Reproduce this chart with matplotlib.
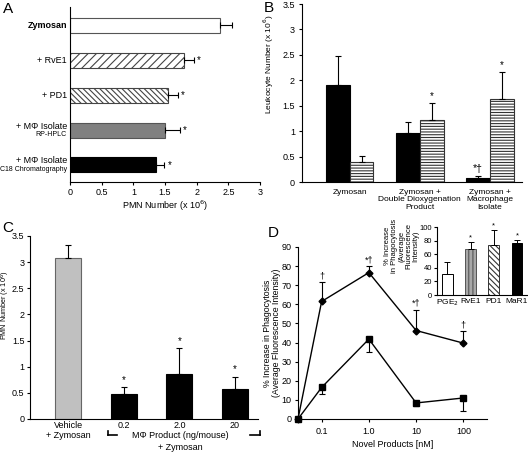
import matplotlib
matplotlib.use('Agg')
import matplotlib.pyplot as plt
import numpy as np

plt.rcParams['font.family'] = ['Liberation Sans', 'DejaVu Sans']
plt.rcParams['font.size'] = 6.5
plt.rcParams['hatch.linewidth'] = 0.8
plt.rcParams['axes.linewidth'] = 0.8
plt.rcParams['xtick.major.width'] = 0.8
plt.rcParams['ytick.major.width'] = 0.8
plt.rcParams['xtick.major.size'] = 2.5
plt.rcParams['ytick.major.size'] = 2.5
plt.rcParams['ytick.major.pad'] = 2.5

# ---------------- data ----------------
# Panel A
a_labels = ['Zymosan', '+ RvE1', '+ PD1', '+ MΦ Isolate', '+ MΦ Isolate']
a_sublabels = ['', '', '', 'RP-HPLC', 'C18 Chromatography']
a_values = [2.37, 1.80, 1.55, 1.50, 1.36]
a_errors = [0.18, 0.15, 0.15, 0.23, 0.13]
a_sig = ['', '*', '*', '*', '*']

# Panel B
b_groups = ['Zymosan', 'Zymosan +\nDouble Dioxygenation\nProduct', 'Zymosan +\nMacrophage\nIsolate']
b_black = [1.91, 0.97, 0.085]
b_black_err = [0.56, 0.21, 0.035]
b_hatch = [0.395, 1.22, 1.64]
b_hatch_err = [0.115, 0.34, 0.52]
b_black_sig = ['', '', '*†']
b_hatch_sig = ['', '*', '*']

# Panel C
c_labels = ['Vehicle\n+ Zymosan', '0.2', '2.0', '20']
c_values = [3.08, 0.48, 0.87, 0.57]
c_errors = [0.25, 0.13, 0.48, 0.24]
c_sig = ['', '*', '*', '*']

# Panel D main
d_dose = [0, 0.1, 1, 10, 100]
d_tick_labels = ['0.1', '1.0', '10', '100']
d_upper = [0, 61.5, 76.6, 46.3, 39.7]
d_upper_err = [0, 10.1, 3.4, 10.8, 6.1]
d_upper_sig = ['', '†', '*†', '*†', '†']
d_lower = [0, 16.5, 41.8, 8.4, 11.0]
d_lower_err = [0, 3.5, 6.8, 1.8, 7.0]

# Panel D inset
i_labels = ['PGE$_2$', 'RvE1', 'PD1', 'MaR1']
i_values = [30.5, 67.5, 73.0, 77.0]
i_errors = [18.0, 10.5, 22.0, 3.5]
i_sig = ['', '*', '*', '*']

# ---------------- figure ----------------
W, H = 528, 454
fig = plt.figure(figsize=(W / 100, H / 100), dpi=100)


def px_axes(l, t, r, b):
    return fig.add_axes([l / W, 1 - b / H, (r - l) / W, (b - t) / H])


def ftext(x, y, s, **kw):
    fig.text(x / W, 1 - y / H, s, **kw)


ekw = dict(fmt='none', ecolor='black', elinewidth=0.8, capsize=2.5, capthick=0.8)

# ---------- Panel A ----------
axA = px_axes(70, 7, 260, 182)
ya = np.arange(len(a_values))
a_face = ['white', 'white', 'white', '#808080', 'black']
a_hatch = [None, '////', '\\\\\\\\\\\\', None, None]
a_edge = ['#555555', '#444444', '#444444', '#555555', 'black']
for i in range(len(a_values)):
    axA.barh(ya[i], a_values[i], height=0.43, color=a_face[i], edgecolor=a_edge[i],
             hatch=a_hatch[i], linewidth=0.8)
axA.errorbar(a_values, ya, xerr=[np.zeros(len(a_errors)), a_errors], **ekw)
for i in range(len(a_values)):
    if a_sig[i]:
        axA.text(a_values[i] + a_errors[i] + 0.05, ya[i], a_sig[i], ha='left', va='center', fontsize=7)
axA.set_xlim(0, 3)
axA.set_ylim(4.49, -0.53)
axA.set_xticks([0, 0.5, 1, 1.5, 2, 2.5, 3])
axA.set_xticklabels(['0', '0.5', '1', '1.5', '2', '2.5', '3'])
axA.tick_params(axis='x', pad=2)
axA.set_yticks([])
for s in ['top', 'right']:
    axA.spines[s].set_visible(False)
axA.set_xlabel('PMN Number (x 10$^6$)', fontsize=6.5, labelpad=1)
for i in range(len(a_labels)):
    if a_sublabels[i]:
        axA.annotate(a_labels[i], xy=(0, ya[i]), xytext=(-3, 4), textcoords='offset pixels',
                     ha='right', va='center', fontsize=6.5)
        axA.annotate(a_sublabels[i], xy=(0, ya[i]), xytext=(-3, -4.5), textcoords='offset pixels',
                     ha='right', va='center', fontsize=5.0)
    else:
        axA.annotate(a_labels[i], xy=(0, ya[i]), xytext=(-3, 0), textcoords='offset pixels',
                     ha='right', va='center', fontsize=6.5,
                     fontweight='bold' if i == 0 else 'normal')
ftext(3, 2, 'A', fontsize=11, va='top')

# ---------- Panel B ----------
axB = px_axes(302, 4, 522, 182)
xb = np.arange(len(b_groups))
bw = 0.34
axB.bar(xb - bw / 2, b_black, width=bw, color='black', edgecolor='black', linewidth=0.8)
axB.bar(xb + bw / 2, b_hatch, width=bw, color='white', edgecolor='#333333',
        hatch='------', linewidth=0.8)
axB.errorbar(xb - bw / 2, b_black, yerr=[np.zeros(3), b_black_err], **ekw)
axB.errorbar(xb + bw / 2, b_hatch, yerr=[np.zeros(3), b_hatch_err], **ekw)
for i in range(3):
    if b_black_sig[i]:
        axB.text(xb[i] - bw / 2, b_black[i] + b_black_err[i] + 0.04, b_black_sig[i],
                 ha='center', va='bottom', fontsize=7.5)
    if b_hatch_sig[i]:
        axB.text(xb[i] + bw / 2, b_hatch[i] + b_hatch_err[i] + 0.04, b_hatch_sig[i],
                 ha='center', va='bottom', fontsize=7)
axB.set_xlim(-0.68, 2.46)
axB.set_ylim(0, 3.5)
axB.set_yticks(np.arange(0, 3.51, 0.5))
axB.set_yticklabels(['0', '0.5', '1', '1.5', '2', '2.5', '3', '3.5'])
axB.set_xticks(xb)
axB.set_xticklabels(b_groups, fontsize=6, linespacing=1.1)
axB.tick_params(axis='x', length=0, pad=5)
for s in ['top', 'right']:
    axB.spines[s].set_visible(False)
axB.set_ylabel('Leukocyte Number (x 10$^6$)', fontsize=6)
axB.yaxis.set_label_coords(-0.118, 0.66)
ftext(264, 1, 'B', fontsize=11, va='top')

# ---------- Panel C ----------
axC = px_axes(30, 236, 258, 419)
xc = np.arange(len(c_values))
c_face = ['#c0c0c0', 'black', 'black', 'black']
c_edge = ['#666666', 'black', 'black', 'black']
axC.bar(xc, c_values, width=0.47, color=c_face, edgecolor=c_edge, linewidth=0.8)
axC.errorbar(xc, c_values, yerr=[np.zeros(4), c_errors], **ekw)
for i in range(4):
    if c_sig[i]:
        axC.text(xc[i], c_values[i] + c_errors[i] + 0.04, c_sig[i], ha='center', va='bottom', fontsize=7)
axC.set_xlim(-0.69, 3.415)
axC.set_ylim(0, 3.5)
axC.set_yticks(np.arange(0, 3.51, 0.5))
axC.set_yticklabels(['0', '0.5', '1', '1.5', '2', '2.5', '3', '3.5'])
axC.tick_params(axis='y', pad=1.5)
axC.set_xticks(xc)
axC.set_xticklabels(c_labels, fontsize=6.5, linespacing=1.2, va='top')
axC.tick_params(axis='x', length=0, pad=1.5)
for s in ['top', 'right']:
    axC.spines[s].set_visible(False)
axC.set_ylabel('PMN Number (x 10$^6$)', fontsize=5.2)
axC.yaxis.set_label_coords(-0.077, 0.62)
# bracket and group label
ftext(180, 435, 'MΦ Product (ng/mouse)', ha='center', va='center', fontsize=6.5)
ftext(180, 448, '+ Zymosan', ha='center', va='center', fontsize=6.5)
fig.add_artist(plt.Line2D([108 / W, 117 / W, ], [1 - 435 / H, 1 - 435 / H], color='black', lw=1.2))
fig.add_artist(plt.Line2D([108 / W, 108 / W], [1 - 435 / H, 1 - 431 / H], color='black', lw=1.2))
fig.add_artist(plt.Line2D([250 / W, 260 / W], [1 - 435 / H, 1 - 435 / H], color='black', lw=1.2))
fig.add_artist(plt.Line2D([260 / W, 260 / W], [1 - 435 / H, 1 - 431 / H], color='black', lw=1.2))
ftext(2, 221, 'C', fontsize=11, va='top')

# ---------- Panel D main ----------
axD = px_axes(298, 247, 487, 419)
xmin, xmax = 10 ** -1.5, 10 ** 2.5
axD.set_xscale('log')
dose = np.array(d_dose, dtype=float)
dx = np.where(dose > 0, dose, xmin)
axD.plot(dx, d_upper, color='black', lw=1.0, marker='D', ms=3.5, mfc='black', clip_on=False)
axD.plot(dx, d_lower, color='black', lw=1.0, marker='s', ms=4, mfc='black', clip_on=False)
n = len(dx)
axD.errorbar(dx[1:], d_upper[1:], yerr=[np.zeros(n - 1), d_upper_err[1:]], **ekw)
axD.errorbar(dx[1:], d_lower[1:], yerr=[d_lower_err[1:], np.zeros(n - 1)], **ekw)
for i in range(1, n):
    if d_upper_sig[i]:
        axD.text(dx[i], d_upper[i] + d_upper_err[i] + 1.0, d_upper_sig[i], ha='center', va='bottom',
                 fontsize=6.5)
axD.set_xlim(xmin, xmax)
axD.set_ylim(0, 90)
axD.set_xticks(dose[1:])
axD.set_xticklabels(d_tick_labels)
axD.minorticks_off()
axD.tick_params(axis='x', pad=3)
axD.set_yticks(np.arange(0, 91, 10))
axD.tick_params(axis='y', pad=2)
for s in ['top', 'right']:
    axD.spines[s].set_visible(False)
axD.set_xlabel('Novel Products [nM]', fontsize=6.5, labelpad=3)
axD.set_ylabel('% Increase in Phagocytosis\n(Average Fluorescence Intensity)', fontsize=6.3,
               linespacing=1.1)
axD.yaxis.set_label_coords(-0.088, 0.5)
ftext(268, 226, 'D', fontsize=11, va='top')

# ---------- Panel D inset ----------
axI = px_axes(437, 227, 527, 295)
xi = np.arange(len(i_values))
i_face = ['white', '#a8a8a8', 'white', 'black']
i_hatch = [None, '||||', '\\\\\\\\\\\\', None]
i_edge = ['black', '#555555', '#333333', 'black']
for i in range(4):
    axI.bar(xi[i], i_values[i], width=0.47, color=i_face[i], hatch=i_hatch[i],
            edgecolor=i_edge[i], linewidth=0.7)
axI.errorbar(xi, i_values, yerr=[np.zeros(4), i_errors], fmt='none', ecolor='black',
             elinewidth=0.7, capsize=2, capthick=0.7)
for i in range(4):
    if i_sig[i]:
        axI.text(xi[i], i_values[i] + i_errors[i] + 1, i_sig[i], ha='center', va='bottom', fontsize=5.5)
axI.set_xlim(-0.45, 3.43)
axI.set_ylim(0, 100)
axI.set_yticks(np.arange(0, 101, 20))
axI.tick_params(axis='y', labelsize=5.5, length=2, pad=1.5)
axI.set_xticks(xi)
axI.set_xticklabels(i_labels, fontsize=6)
axI.tick_params(axis='x', length=0, pad=2)
for s in ['top', 'right']:
    axI.spines[s].set_visible(False)
axI.set_ylabel('% Increase\nin Phagocytosis\n(Average\nFluorescence\nIntensity)', fontsize=5.5,
               linespacing=1.0)
axI.yaxis.set_label_coords(-0.2, 0.72)

fig.savefig('out.png', dpi=100)
